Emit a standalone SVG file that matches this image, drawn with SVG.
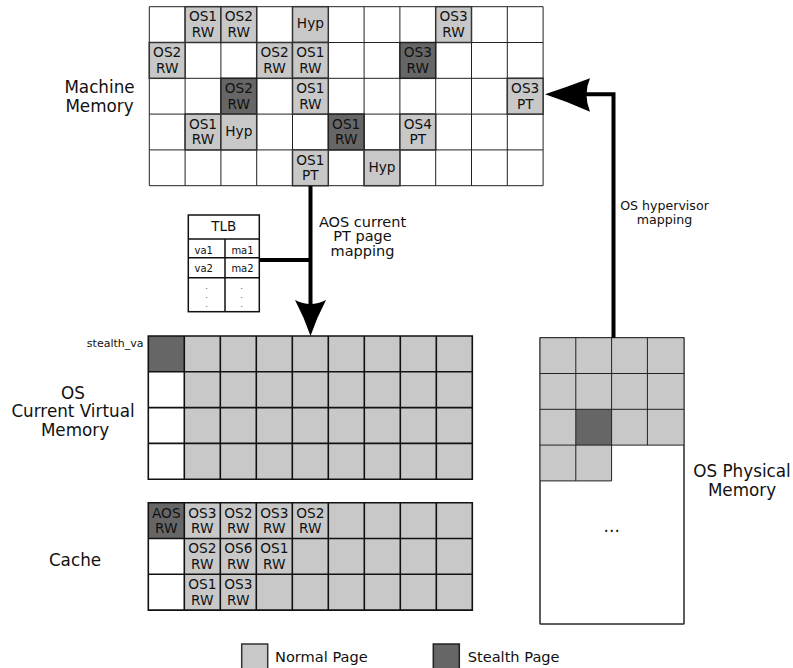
<svg xmlns="http://www.w3.org/2000/svg" width="793" height="668" viewBox="0 0 793 668">
<style>
text{font-family:"DejaVu Sans","Liberation Sans",sans-serif;fill:#111}
.bg{fill:#fff}
.grid{fill:none;stroke:#222;stroke-width:1}
.grid2{fill:none;stroke:#111;stroke-width:1.6}
.n{fill:#c8c8c8;stroke:#333;stroke-width:1.5}
.s{fill:#666;stroke:#222;stroke-width:1.5}
.nf{fill:#c8c8c8}
.sf{fill:#666}
.t{font-size:13.7px;text-anchor:middle}
.lbl{font-size:16.8px;text-anchor:middle}
.conn{fill:none;stroke:#000;stroke-width:4}
.head{fill:#000}
.tlb{fill:#fff;stroke:#111;stroke-width:1.5}
.sm{font-size:10px;text-anchor:middle}
.dot{font-size:7px;text-anchor:middle}
</style>
<defs>
<symbol id="c" overflow="visible"><rect class="n" width="35.8" height="35.8"/></symbol>
<symbol id="d" overflow="visible"><rect class="s" width="35.8" height="35.8"/></symbol>
</defs>

<g id="machine-memory">
<rect class="bg" x="149.3" y="6.7" width="393.8" height="179"/>
<path class="grid" d="M149.3,6.7H543.1V185.7H149.3Z M185.1,6.7V185.7 M220.9,6.7V185.7 M256.7,6.7V185.7 M292.5,6.7V185.7 M328.3,6.7V185.7 M364.1,6.7V185.7 M399.9,6.7V185.7 M435.7,6.7V185.7 M471.5,6.7V185.7 M507.3,6.7V185.7 M149.3,42.5H543.1 M149.3,78.3H543.1 M149.3,114.1H543.1 M149.3,149.9H543.1"/>
<g transform="translate(185.1,6.7)"><use href="#c"/><text class="t" x="17.9" y="14.8">OS1</text><text class="t" x="17.9" y="30.3">RW</text></g>
<g transform="translate(220.9,6.7)"><use href="#c"/><text class="t" x="17.9" y="14.8">OS2</text><text class="t" x="17.9" y="30.3">RW</text></g>
<g transform="translate(292.5,6.7)"><use href="#c"/><text class="t" x="17.9" y="21.8">Hyp</text></g>
<g transform="translate(435.7,6.7)"><use href="#c"/><text class="t" x="17.9" y="14.8">OS3</text><text class="t" x="17.9" y="30.3">RW</text></g>
<g transform="translate(149.3,42.5)"><use href="#c"/><text class="t" x="17.9" y="14.8">OS2</text><text class="t" x="17.9" y="30.3">RW</text></g>
<g transform="translate(256.7,42.5)"><use href="#c"/><text class="t" x="17.9" y="14.8">OS2</text><text class="t" x="17.9" y="30.3">RW</text></g>
<g transform="translate(292.5,42.5)"><use href="#c"/><text class="t" x="17.9" y="14.8">OS1</text><text class="t" x="17.9" y="30.3">RW</text></g>
<g transform="translate(399.9,42.5)"><use href="#d"/><text class="t" x="17.9" y="14.8">OS3</text><text class="t" x="17.9" y="30.3">RW</text></g>
<g transform="translate(220.9,78.3)"><use href="#d"/><text class="t" x="17.9" y="14.8">OS2</text><text class="t" x="17.9" y="30.3">RW</text></g>
<g transform="translate(292.5,78.3)"><use href="#c"/><text class="t" x="17.9" y="14.8">OS1</text><text class="t" x="17.9" y="30.3">RW</text></g>
<g transform="translate(507.3,78.3)"><use href="#c"/><text class="t" x="17.9" y="14.8">OS3</text><text class="t" x="17.9" y="30.3">PT</text></g>
<g transform="translate(185.1,114.1)"><use href="#c"/><text class="t" x="17.9" y="14.8">OS1</text><text class="t" x="17.9" y="30.3">RW</text></g>
<g transform="translate(220.9,114.1)"><use href="#c"/><text class="t" x="17.9" y="21.8">Hyp</text></g>
<g transform="translate(328.3,114.1)"><use href="#d"/><text class="t" x="17.9" y="14.8">OS1</text><text class="t" x="17.9" y="30.3">RW</text></g>
<g transform="translate(399.9,114.1)"><use href="#c"/><text class="t" x="17.9" y="14.8">OS4</text><text class="t" x="17.9" y="30.3">PT</text></g>
<g transform="translate(292.5,149.9)"><use href="#c"/><text class="t" x="17.9" y="14.8">OS1</text><text class="t" x="17.9" y="30.3">PT</text></g>
<g transform="translate(364.1,149.9)"><use href="#c"/><text class="t" x="17.9" y="21.8">Hyp</text></g>
</g>

<g id="labels">
<text class="lbl" x="99.5" y="93">Machine</text>
<text class="lbl" x="99.5" y="112.2">Memory</text>
<text class="lbl" x="73" y="399">OS</text>
<text class="lbl" x="73" y="417">Current Virtual</text>
<text class="lbl" x="75" y="435.5">Memory</text>
<text class="lbl" x="75" y="566">Cache</text>
<text class="lbl" x="742" y="477">OS Physical</text>
<text class="lbl" x="742" y="496.2">Memory</text>
<text x="362.5" y="226.5" style="font-size:14.5px;text-anchor:middle">AOS current</text>
<text x="362.5" y="241" style="font-size:14.5px;text-anchor:middle">PT page</text>
<text x="362.5" y="255.5" style="font-size:14.5px;text-anchor:middle">mapping</text>
<text x="664.5" y="209.5" style="font-size:12.6px;text-anchor:middle">OS hypervisor</text>
<text x="664.5" y="223.5" style="font-size:12.6px;text-anchor:middle">mapping</text>
<text x="143.5" y="347.3" style="font-size:11px;text-anchor:end">stealth_va</text>
</g>

<g id="tlb">
<rect class="tlb" x="188.3" y="215" width="71" height="96.7"/>
<path class="tlb" d="M188.3,239H259.3 M188.3,257.7H259.3 M188.3,277.7H259.3 M225,239V311.7"/>
<text x="223.8" y="230.5" style="font-size:13.5px;text-anchor:middle">TLB</text>
<text class="sm" x="203.7" y="254">va1</text>
<text class="sm" x="242.5" y="254">ma1</text>
<text class="sm" x="203.7" y="272">va2</text>
<text class="sm" x="242.5" y="272">ma2</text>
<text class="dot" x="206.7" y="289">.<tspan x="206.7" dy="9">.</tspan><tspan x="206.7" dy="9">.</tspan></text>
<text class="dot" x="241.7" y="289">.<tspan x="241.7" dy="9">.</tspan><tspan x="241.7" dy="9">.</tspan></text>
</g>

<g id="virtual-memory">
<rect class="nf" x="184.3" y="336" width="288" height="143.2"/>
<rect class="sf" x="148.3" y="336" width="36" height="35.8"/>
<rect class="bg" x="148.3" y="371.8" width="36" height="107.4"/>
<path class="grid2" d="M148.3,336H472.3V479.2H148.3Z M184.3,336V479.2 M220.3,336V479.2 M256.3,336V479.2 M292.3,336V479.2 M328.3,336V479.2 M364.3,336V479.2 M400.3,336V479.2 M436.3,336V479.2 M148.3,371.8H472.3 M148.3,407.6H472.3 M148.3,443.4H472.3"/>
</g>

<g id="cache">
<rect class="nf" x="184.3" y="502.7" width="288" height="107.4"/>
<rect class="sf" x="148.3" y="502.7" width="36" height="35.8"/>
<rect class="bg" x="148.3" y="538.5" width="36" height="71.6"/>
<path class="grid2" d="M148.3,502.7H472.3V610.1H148.3Z M184.3,502.7V610.1 M220.3,502.7V610.1 M256.3,502.7V610.1 M292.3,502.7V610.1 M328.3,502.7V610.1 M364.3,502.7V610.1 M400.3,502.7V610.1 M436.3,502.7V610.1 M148.3,538.5H472.3 M148.3,574.3H472.3"/>
<text class="t" x="166.3" y="517.5">AOS</text><text class="t" x="166.3" y="533">RW</text>
<text class="t" x="202.3" y="517.5">OS3</text><text class="t" x="202.3" y="533">RW</text>
<text class="t" x="238.3" y="517.5">OS2</text><text class="t" x="238.3" y="533">RW</text>
<text class="t" x="274.3" y="517.5">OS3</text><text class="t" x="274.3" y="533">RW</text>
<text class="t" x="310.3" y="517.5">OS2</text><text class="t" x="310.3" y="533">RW</text>
<text class="t" x="202.3" y="553.3">OS2</text><text class="t" x="202.3" y="568.8">RW</text>
<text class="t" x="238.3" y="553.3">OS6</text><text class="t" x="238.3" y="568.8">RW</text>
<text class="t" x="274.3" y="553.3">OS1</text><text class="t" x="274.3" y="568.8">RW</text>
<text class="t" x="202.3" y="589.1">OS1</text><text class="t" x="202.3" y="604.6">RW</text>
<text class="t" x="238.3" y="589.1">OS3</text><text class="t" x="238.3" y="604.6">RW</text>
</g>

<g id="physical-memory">
<rect class="bg" x="540" y="337.7" width="144" height="286.3" stroke="#333" stroke-width="1"/>
<rect class="nf" x="540" y="337.7" width="144" height="107.4"/>
<rect class="nf" x="540" y="445.1" width="71.6" height="35.8"/>
<rect class="sf" x="575.8" y="409.3" width="35.8" height="35.8"/>
<path class="grid" d="M540,337.7H684V624H540Z M575.8,337.7V480.9 M611.6,337.7V480.9 M647.4,337.7V445.1 M540,373.5H684 M540,409.3H684 M540,445.1H684 M540,480.9H611.6"/>
<text x="611.7" y="532" style="font-size:17px;text-anchor:middle">...</text>
</g>

<g id="connectors">
<path class="conn" d="M310.5,186V310"/>
<path class="conn" d="M259.3,260H310.5"/>
<path class="head" d="M310.5,336 Q304,317 295,300 Q310.5,308 326,300 Q317,317 310.5,336Z"/>
<path class="conn" d="M613.5,337.7V94.3H586"/>
<path class="head" d="M545,94.3 Q567,87 590,78.3 Q583,94.3 590,111.7 Q567,101.5 545,94.3Z"/>
</g>

<g id="legend">
<rect class="n" x="241.7" y="644" width="26" height="26"/>
<text x="275" y="662" style="font-size:14.6px">Normal Page</text>
<rect class="s" x="433.3" y="644" width="26" height="26"/>
<text x="467.7" y="662" style="font-size:14.6px">Stealth Page</text>
</g>
</svg>
